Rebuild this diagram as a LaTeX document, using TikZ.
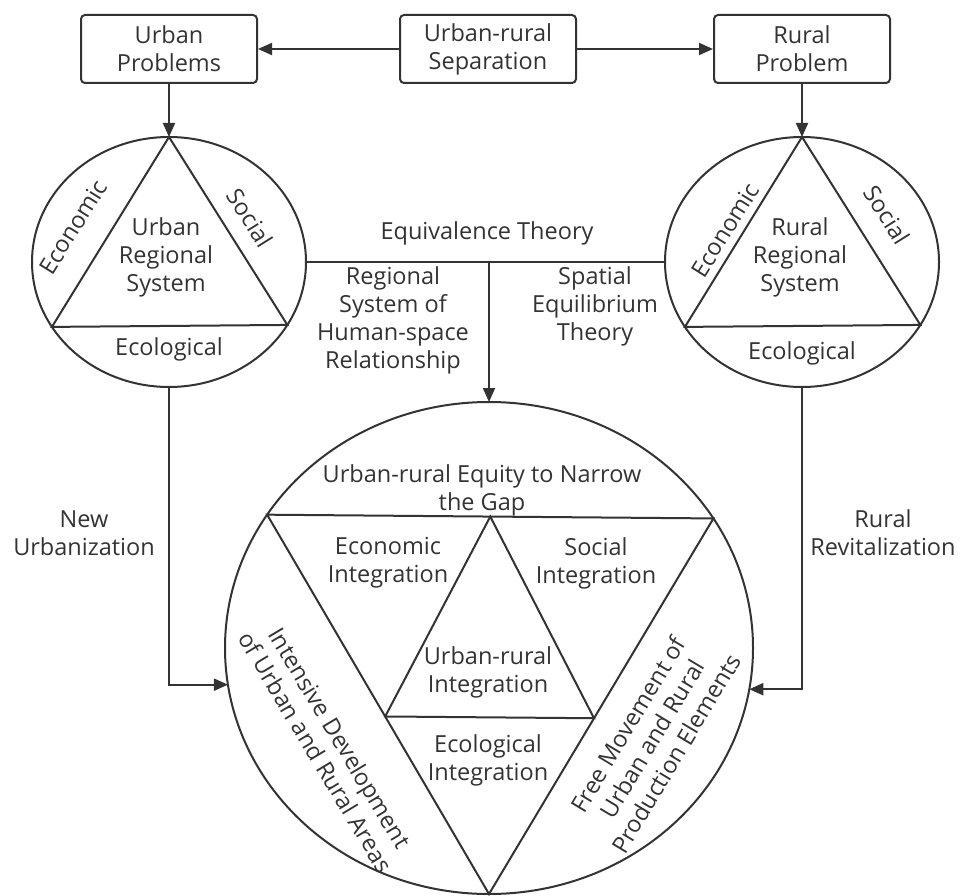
\documentclass[tikz,border=0pt]{standalone}
\usepackage{fontspec}
\setmainfont{Open Sans}
\usetikzlibrary{shapes.geometric,arrows.meta,calc}
\definecolor{ink}{HTML}{333333}
\newcommand{\lblfont}{\fontsize{23.5}{28}\selectfont}

\begin{document}
\begin{tikzpicture}[x=1pt, y=-1pt,
    box/.style={rectangle, draw=ink, line width=2pt, rounded corners=4pt, minimum width=176pt, minimum height=68pt, align=center, text=ink, font=\lblfont},
    ring/.style={ellipse, draw=ink, line width=2pt, inner sep=0pt, outer sep=0pt},
    lbl/.style={align=center, text=ink, font=\lblfont, inner sep=0pt},
    edge/.style={draw=ink, line width=2pt, line join=miter},
    arrow/.style={-{Triangle[length=14pt,width=12pt]}, draw=ink, line width=2pt}
]
\useasboundingbox (0,0) rectangle (964,896);

% top row
\node[box] (upb) at (169,49) {Urban\\Problems};
\node[box] (sep) at (488,49) {Urban-rural\\Separation};
\node[box] (rpb) at (802,49) {Rural\\Problem};

% regional systems
\node[ring, minimum width=274pt, minimum height=250pt] (ucirc) at (169,262) {};
\node[ring, minimum width=274pt, minimum height=250pt] (rcirc) at (802,262) {};
\node[ring, minimum width=528pt, minimum height=492pt] (bigc) at (489,648) {};

\draw[edge] (ucirc.north) -- (ucirc.-151.5) -- (ucirc.-28.5) -- cycle;
\draw[edge] (rcirc.north) -- (rcirc.-151.5) -- (rcirc.-28.5) -- cycle;
\draw[edge] (bigc.149.7) -- (bigc.30.3) -- (bigc.south) -- cycle;
\coordinate (ta) at ($(bigc.149.7)!0.5!(bigc.30.3)$);
\coordinate (tb) at ($(bigc.149.7)!0.532!(bigc.south)$);
\coordinate (tc) at ($(bigc.30.3)!0.532!(bigc.south)$);
\draw[edge] (ta) -- (tb) -- (tc) -- cycle;

\node[lbl] (urs) at (166,257) {Urban\\Regional\\System};
\node[lbl] (uecol) at (169,349) {Ecological};
\node[lbl, rotate=58] (uecon) at (73,227) {Economic};
\node[lbl, rotate=-58] (usoc) at (250,218) {Social};

\node[lbl] (rrs) at (800,257) {Rural\\Regional\\System};
\node[lbl] (recol) at (802,353) {Ecological};
\node[lbl, rotate=58] (recon) at (725,230) {Economic};
\node[lbl, rotate=-58] (rsoc) at (887,215) {Social};

% integration
\node[lbl] (equity) at (482,490) {Urban-rural Equity to Narrow\\the Gap};
\node[lbl] (econi) at (388,563) {Economic\\Integration};
\node[lbl] (soci) at (596,563) {Social\\Integration};
\node[lbl] (uri) at (488,672) {Urban-rural\\Integration};
\node[lbl] (ecoli) at (488,760) {Ecological\\Integration};
\node[lbl, rotate=-59] (intdev) at (328,745) {Intensive Development\\of Urban and Rural Areas};
\node[lbl, rotate=59] (freemov) at (652,739) {Free Movement of\\Urban and Rural\\Production Elements};

% theories and paths
\node[lbl] (equiv) at (487,233) {Equivalence Theory};
\node[lbl] (hsr) at (393,320) {Regional\\System of\\Human-space\\Relationship};
\node[lbl] (seq) at (595,306) {Spatial\\Equilibrium\\Theory};
\node[lbl] (newurb) at (84,533) {New\\Urbanization};
\node[lbl] (rurrev) at (883,533) {Rural\\Revitalization};

\draw[arrow] (sep) -- (upb);
\draw[arrow] (sep) -- (rpb);
\draw[arrow] (upb) -- (ucirc);
\draw[arrow] (rpb) -- (rcirc);
\draw[edge] (ucirc) -- (rcirc);
\draw[arrow] (ucirc.east -| bigc.north) -- (bigc.north);
\draw[arrow] (ucirc.south) |- (bigc.188.3);
\draw[arrow] (rcirc.south) |- (bigc.-9.6);

\end{tikzpicture}
\end{document}
